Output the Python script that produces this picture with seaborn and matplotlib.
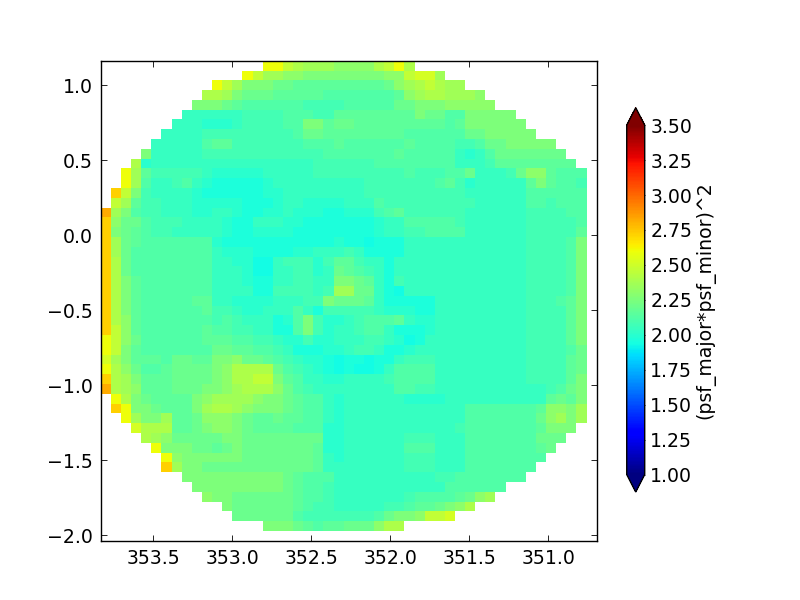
import matplotlib
matplotlib.use("Agg")
import matplotlib.pyplot as plt
import seaborn as sns
import numpy as np
import pandas as pd

# axis limits
ra_left, ra_right = 353.833, 350.694
dec_top, dec_bottom = 1.164, -2.038

ra_ticks = [353.5, 353.0, 352.5, 352.0, 351.5, 351.0]
dec_ticks = [1.0, 0.5, 0.0, -0.5, -1.0, -1.5, -2.0]
cbar_ticks = [1.0, 1.25, 1.5, 1.75, 2.0, 2.25, 2.5, 2.75, 3.0, 3.25, 3.5]

# value of each symbol used in the map below
levels = {"0": 1.93, "1": 1.96, "2": 2.00, "3": 2.04, "4": 2.08, "5": 2.12,
          "6": 2.16, "7": 2.20, "8": 2.25, "9": 2.30, "a": 2.36, "b": 2.40,
          "c": 2.46, "d": 2.52, "e": 2.60, "f": 2.72, "g": 2.82}

# first filled column of every row
row_start = [16, 14, 11, 10, 9, 8, 7, 6, 5, 4, 3, 2, 2, 1, 1,
             0, 0, 0, 0, 0, 0, 0, 0, 0, 0, 0, 0, 0, 0, 0, 0, 0, 0, 0,
             1, 1, 2, 3, 4, 5, 6, 6, 8, 9, 10, 12, 13, 16]

# one string per row of the map, top row first (spaces only for reading)
psf_rows = [
    "eecbaaa9999bceb",
    "ecaa99 88888888 99 cdd a",
    "eca88877 666666666 79abcbaa",
    "bba8777 66666 5555555 69abbaaa9",
    "88876 555555 4444 55555 77 888 99999",
    "333333 4444 555 44 66666666 8 77 55 88888",
    "333222344445588677 666666666 56 888888",
    "3333 444444444 5 77 66666666 555555 77 88888",
    "33333566 4444444 5556 555555 6 5555 445 77 88888",
    "8 33333 444444444444 5555555 6 55555 323 5 7777777",
    "b2 3333333333333333 444444 55555555 333 4 66666666",
    "ea6 44444 3 22222 33333 444444444 5 444 55 7 333 4 7 99 6 555",
    "ea5 33 4 5 3 2 11111 2 333333333 4444444 5 6 4 2 33333 6 8 6 55 4",
    "fc84 3333 2 111111 22 33333333 4444444444 333333 555555",
    "ca6 44 333 22222 111 2 33 2222 333 5 444444444 33333 55 4 555",
    "ga85 44 333 22 33 2 11 22 3 222 11 222 456 444444 333333 4444 55",
    "f977 5 444 3333 2 11 333 22 1111111 2 33 55555 4 333333 44444 5",
    "f876 5 44 33333 2 11 2222 11111111 2 33 44 5555 333333 44444 6",
    "fa76 5555555 2 11111111111 2 11 0 111 333333333333 4444 5 8",
    "fa75 5555555 3 222 1111 22 333 43 1111 333333333333 4444 5 8",
    "fb75 5555555 33 22 00 3 444 2 4 66 4 33 1 3 333333333333 4444 58",
    "fb75 5555555 333 2 00 33 44 2 3 7 6 5 4 3 1 3 333333333333 4444 58",
    "fb86 5555555 333 2 11 33 44 33 8 8 7 6 3 1 4 333333333333 4444 58",
    "fb86 5555555 3333 11 4444 3 4 a a 77 3 1 0 333333333333 4444 58",
    "fb86 55555 66 33 2222 333 44 87 776 3 11111 333333333 444 568",
    "fb86 555555 6 44 3 22 333 5 3 1 44 444 3 222 11 333333333 4444 68",
    "fb96 5555555 454 333 12 58 4 22 34 555 6 3 22 333333333 4444 68",
    "fc96 555555 6 55 44 33 11 58 4 2 3 3 4 55 3 111 2 333333333 4444 68",
    "ec97 555555 666 55 44 3 22 4 22 333 44 3 2 0 1 3 333333333 4444 68",
    "ec86 5555555 77 66 55 4 3 111 22 3 44 3 11 2 33333333333 4444 57",
    "da86 66 5 77 66 88 9 77 6 5 4 3 22 1 0 11 0 11 3 444 333333333 4444 67",
    "eb97 55 6 7777 8 9 bbbb 7 5 4 3 2 1 0 1 00 1 3 5555 333333333 4444 67",
    "fba8 666 7777 8 9 bb cc 8 6 5 33 22 3333 4 5555 333333333 4444 68",
    "gba9 666 777 88 9 a bbb 9 7 5 4 333 33333 55 44 33333333333 4 5 7 8",
    "eb87 6666 8 9 aaaa 9 88 7 6 55 3 2 333333 2222 3333333333 6768",
    "fe88 7 666 8 a bb a 9 888 7 6 55 3 2 333333333333 5555555 6 998a",
    "ea88 a 66 7 999 8 7 66 7 66 55 3 2 333333333333 5555555 7 9a8a",
    "dbbb 66 7 8 99 8 7 6666 555 22 33333333333 4 5555555 6 888",
    "b a 9 77777 88 77777777 22 333333 444 333 5555555 777",
    "e888 77 6 7 8 7777777 6 22 333333 555 333 5555555 6 7",
    "e 9 888888 7777777 6 3 2 333333 444 333 55555555",
    "f a 88 77777777777 6 33 333333 444 333 5555555",
    "8888888888 7 6 555 3 333333333 44 5555555",
    "888888888 7 6 55 4 3 3333333333 555555",
    "9 88 777777 6 55 4 3 333333 4 5555 6 7 9 a",
    "8 777777 6 5 44 3 3333 44 5 66 7 8 9 b",
    "777777 5 4444444 5 7 88 9 cc d",
    "888 7 6 5 66 777 9 bb",
]

n_cols = 49
grid = []
for start, row in zip(row_start, psf_rows):
    vals = [levels[c] for c in row.replace(" ", "")]
    grid.append([np.nan] * start + vals + [np.nan] * (n_cols - start - len(vals)))
grid.append([np.nan] * n_cols)  # empty row under the map
df = pd.DataFrame(grid)

sns.set_style("ticks")
plt.rcParams["text.color"] = "black"
plt.rcParams["xtick.labelcolor"] = "black"
plt.rcParams["ytick.labelcolor"] = "black"
plt.rcParams["axes.labelcolor"] = "black"

fig = plt.figure(figsize=(8, 6), dpi=100, facecolor="white")
ax = fig.add_axes([0.1259, 0.0988, 0.62, 0.8])
cax = fig.add_axes([0.7834, 0.18, 0.0225, 0.6405])

sns.heatmap(df, ax=ax, cbar_ax=cax, cmap="jet", vmin=1.0, vmax=3.5,
            xticklabels=False, yticklabels=False,
            cbar_kws={"extend": "both", "ticks": cbar_ticks, "format": "%.2f"})

# convert sky coords to heatmap cell coords
n_rows = df.shape[0]
x_pos = [(ra_left - r) / (ra_left - ra_right) * n_cols for r in ra_ticks]
y_pos = [(dec_top - d) / (dec_top - dec_bottom) * n_rows for d in dec_ticks]
ax.set_xticks(x_pos)
ax.set_xticklabels([f"{r:.1f}" for r in ra_ticks], rotation=0)
ax.set_yticks(y_pos)
ax.set_yticklabels([f"{d:.1f}".replace("-", "\u2212") for d in dec_ticks], rotation=0)
ax.set_xlabel("")
ax.set_ylabel("")
ax.tick_params(axis="both", which="major", direction="in", length=4, width=0.6,
               top=True, right=True, bottom=True, left=True, labelsize=13.6, pad=6, color="black")
for s in ax.spines.values():
    s.set_visible(True)
    s.set_linewidth(1.0)
    s.set_color("black")

cbar = ax.collections[0].colorbar
cbar.outline.set_linewidth(1.0)
cbar.outline.set_edgecolor("black")
cbar.ax.tick_params(direction="in", length=4, width=0.6, labelsize=13.6, pad=4, color="black")
cbar.set_label("(psf_major*psf_minor)^2", fontsize=13.6, labelpad=2)

fig.savefig("out.png", dpi=100, facecolor="white")
